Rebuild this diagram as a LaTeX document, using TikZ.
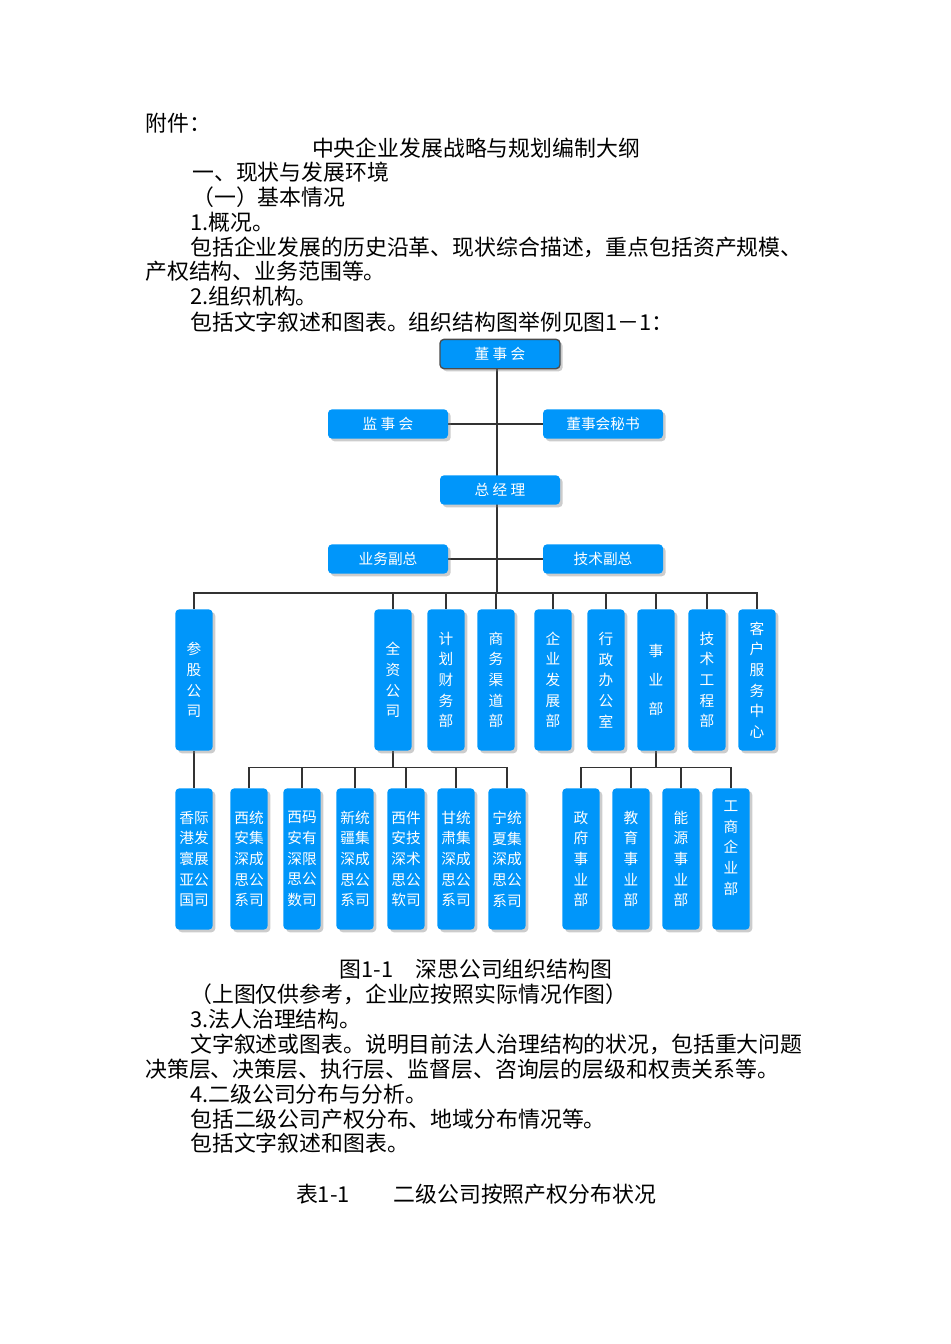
\documentclass[tikz,border=0pt]{standalone}
\usepackage{fontspec}
\setmainfont{Noto Sans CJK SC}
\usetikzlibrary{shadows, backgrounds}
\definecolor{boxblue}{RGB}{0,150,250}
\tikzset{
  txt/.style={anchor=base west, inner sep=0pt, font=\fontsize{16.4}{20}\selectfont},
  ctxt/.style={anchor=base, inner sep=0pt, font=\fontsize{16.4}{20}\selectfont},
  hbox/.style={fill=boxblue, rounded corners=3pt, minimum width=90pt, minimum height=22pt, text=white, font=\fontsize{11}{13}\selectfont, drop shadow={opacity=0.4, shadow xshift=2pt, shadow yshift=-2pt}},
  vbox/.style={fill=boxblue, rounded corners=3pt, minimum width=28pt, minimum height=#1, text=white, align=center, font=\fontsize{11}{15.5}\selectfont, inner sep=1pt, drop shadow={opacity=0.4, shadow xshift=2pt, shadow yshift=-2pt}},
  link/.style={draw=black!80, line width=0.8pt}
}
\begin{document}
\begin{tikzpicture}[x=0.75pt, y=-0.75pt]
  \useasboundingbox (0,0) rectangle (950,1344);

  % body text
  \node [txt] (t1) at (145,132) {附件：};
  \node [ctxt] (t2) at (476,157) {中央企业发展战略与规划编制大纲};
  \node [txt] (t3) at (192,181) {一、现状与发展环境};
  \node [txt] (t4) at (192,206) {（一）基本情况};
  \node [txt] (t5) at (190,231) {1.概况。};
  \node [txt] (t6) at (190,256) {包括企业发展的历史沿革、现状综合描述，重点包括资产规模、};
  \node [txt] (t7) at (145,280) {产权结构、业务范围等。};
  \node [txt] (t8) at (190,305) {2.组织机构。};
  \node [txt] (t9) at (190,330) {包括文字叙述和图表。组织结构图举例见图1－1：};

  % chart, top part
  \node [hbox, draw=black!70, line width=1pt] (board) at (500,354) {董\ 事\ 会};
  \node [hbox] (super) at (388,424) {监\ 事\ 会};
  \node [hbox] (secr) at (603,424) {董事会秘书};
  \node [hbox] (gm) at (500,490) {总\ 经\ 理};
  \node [hbox] (vpb) at (388,559) {业务副总};
  \node [hbox] (vpt) at (603,559) {技术副总};
  \coordinate (bus) at (497,593);

  % chart, middle row
  \node [vbox=106pt] (jv) at (194,680) {参\\股\\公\\司};
  \node [vbox=106pt] (own) at (393,680) {全\\资\\公\\司};
  \node [vbox=106pt] (fin) at (446,680) {计\\划\\财\\务\\部};
  \node [vbox=106pt] (chan) at (496,680) {商\\务\\渠\\道\\部};
  \node [vbox=106pt] (dev) at (553,680) {企\\业\\发\\展\\部};
  \node [vbox=106pt] (adm) at (606,680) {行\\政\\办\\公\\室};
  \node [vbox=106pt] (biz) at (656,680) {事\\[6pt]业\\[6pt]部};
  \node [vbox=106pt] (tech) at (707,680) {技\\术\\工\\程\\部};
  \node [vbox=106pt] (cust) at (757,680) {客\\户\\服\\务\\中\\心};

  % chart, bottom row
  \node [vbox=106pt] (hk) at (194,859) {香际\\港发\\寰展\\亚公\\国司};
  \node [vbox=106pt] (s1) at (249,859) {西统\\安集\\深成\\思公\\系司};
  \node [vbox=106pt] (s2) at (302,859) {西码\\安有\\深限\\思公\\数司};
  \node [vbox=106pt] (s3) at (355,859) {新统\\疆集\\深成\\思公\\系司};
  \node [vbox=106pt] (s4) at (406,859) {西件\\安技\\深术\\思公\\软司};
  \node [vbox=106pt] (s5) at (456,859) {甘统\\肃集\\深成\\思公\\系司};
  \node [vbox=106pt] (s6) at (507,859) {宁统\\夏集\\深成\\思公\\系司};
  \node [vbox=106pt] (d1) at (581,859) {政\\府\\事\\业\\部};
  \node [vbox=106pt] (d2) at (631,859) {教\\育\\事\\业\\部};
  \node [vbox=106pt] (d3) at (681,859) {能\\源\\事\\业\\部};
  \node [vbox=106pt] (d4) at (731,859) {工\\商\\企\\业\\部\\[2pt]};

  % connectors
  \begin{scope}[on background layer]
  \draw [link] (board.south -| bus) -- (bus);
  \draw [link] (super.east) -- (secr.west);
  \draw [link] (vpb.east) -- (vpt.west);
  \draw [link] (jv.north) |- (bus) -| (cust.north);
  \foreach \n in {own,fin,chan,dev,adm,biz,tech}
    \draw [link] (\n.north) -- (\n.north |- bus);
  \draw [link] (jv.south) -- (hk.north);
  \draw [link] (own.south) -- ++(0,17) coordinate (ownbus);
  \draw [link] (s1.north) |- (ownbus) -| (s6.north);
  \foreach \n in {s2,s3,s4,s5}
    \draw [link] (\n.north) -- (\n.north |- ownbus);
  \draw [link] (biz.south) -- ++(0,17) coordinate (bizbus);
  \draw [link] (d1.north) |- (bizbus) -| (d4.north);
  \foreach \n in {d2,d3}
    \draw [link] (\n.north) -- (\n.north |- bizbus);
  \end{scope}

  % caption and text below
  \node [ctxt] (cap) at (476,977) {图1-1\quad 深思公司组织结构图};
  \node [txt] (u1) at (190,1002) {（上图仅供参考，企业应按照实际情况作图）};
  \node [txt] (u2) at (190,1027) {3.法人治理结构。};
  \node [txt] (u3) at (190,1052) {文字叙述或图表。说明目前法人治理结构的状况，包括重大问题};
  \node [txt] (u4) at (145,1077) {决策层、决策层、执行层、监督层、咨询层的层级和权责关系等。};
  \node [txt] (u5) at (190,1102) {4.二级公司分布与分析。};
  \node [txt] (u6) at (190,1127) {包括二级公司产权分布、地域分布情况等。};
  \node [txt] (u7) at (190,1151) {包括文字叙述和图表。};
  \node [ctxt] (tab) at (476,1202) {表1-1\qquad 二级公司按照产权分布状况};
\end{tikzpicture}
\end{document}
